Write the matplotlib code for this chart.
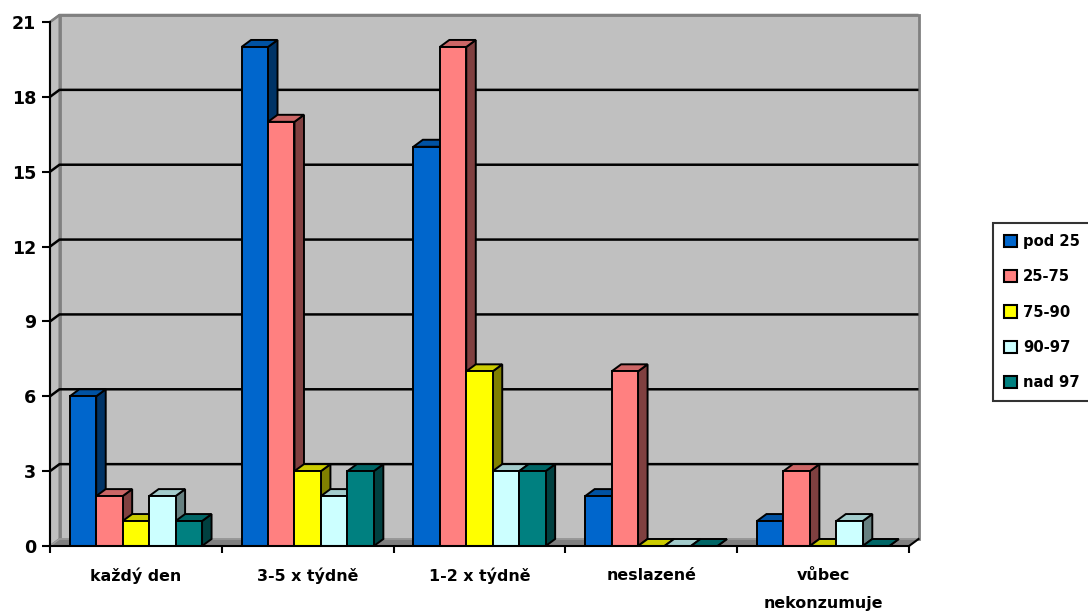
import numpy as np
import matplotlib.pyplot as plt
from matplotlib.patches import Polygon, Rectangle, Patch

categories = ["každý den", "3-5 x týdně", "1-2 x týdně", "neslazené", "vůbec\nnekonzumuje"]
series = ["pod 25", "25-75", "75-90", "90-97", "nad 97"]
pod_25 = [6, 20, 16, 2, 1]
p25_75 = [2, 17, 20, 7, 3]
p75_90 = [1, 3, 7, 0, 0]
p90_97 = [2, 2, 3, 0, 1]
nad_97 = [1, 3, 3, 0, 0]
yticks = [0, 3, 6, 9, 12, 15, 18, 21]

values = [pod_25, p25_75, p75_90, p90_97, nad_97]
front = ["#0066CC", "#FF8080", "#FFFF00", "#CCFFFF", "#008080"]
top = ["#0052A3", "#CC6666", "#CCCC00", "#A3CCCC", "#006666"]
side = ["#003366", "#804040", "#808000", "#668080", "#004040"]

plt.rcParams['font.family'] = ['DejaVu Sans']
plt.rcParams['font.weight'] = 'bold'

W, H = 1088, 612
fig = plt.figure(figsize=(W / 100, H / 100), dpi=100)
ax_l, ax_b, ax_w, ax_h = 50, 66, 859, 524
ax = fig.add_axes([ax_l / W, ax_b / H, ax_w / W, ax_h / H])
ncat = len(categories)
ymax = 21
ax.set_xlim(0, ncat)
ax.set_ylim(0, ymax)
ax.set_facecolor('none')

# depth of the 3d box, in data units (9.5 px right, 7 px up)
DX = 9.5 / ax_w * ncat
DY = 7.0 / ax_h * ymax

# left side wall, floor and back wall
ax.add_patch(Polygon([(0, 0), (DX, DY), (DX, ymax + DY), (0, ymax)], closed=True,
                     facecolor="#C0C0C0", edgecolor="#808080", lw=1.5, clip_on=False, zorder=0.5))
ax.add_patch(Polygon([(0, 0), (ncat, 0), (ncat + DX, DY), (DX, DY)], closed=True,
                     facecolor="#808080", edgecolor="#A0A0A0", lw=1, clip_on=False, zorder=0.6))
ax.add_patch(Rectangle((DX, DY), ncat, ymax, facecolor="#C0C0C0", edgecolor="#808080",
                       lw=2, clip_on=False, zorder=0.4))

# gridlines run across the side wall and along the back wall
for t in yticks[1:]:
    c = "black" if t < ymax else "#808080"
    ax.plot([0, DX, ncat + DX], [t, t + DY, t + DY], color=c, lw=1.8,
            clip_on=False, zorder=0.7, solid_capstyle='butt')

# bars
gap = 0.115
bw = (1 - 2 * gap) / len(series)
for i in range(ncat):
    for j in range(len(series)):
        v = values[j][i]
        x = i + gap + j * bw
        z = 2 + i * 0.1 + j * 0.01
        ax.add_patch(Polygon([(x + bw, 0), (x + bw + DX, DY), (x + bw + DX, v + DY), (x + bw, v)],
                             closed=True, facecolor=side[j], edgecolor="black", lw=1.4,
                             joinstyle='miter', clip_on=False, zorder=z))
        ax.add_patch(Polygon([(x, v), (x + bw, v), (x + bw + DX, v + DY), (x + DX, v + DY)],
                             closed=True, facecolor=top[j], edgecolor="black", lw=1.4,
                             joinstyle='miter', clip_on=False, zorder=z))
        ax.add_patch(Rectangle((x, 0), bw, v, facecolor=front[j], edgecolor="black", lw=1.4,
                               joinstyle='miter', clip_on=False, zorder=z + 0.001))

# axes lines
for s in ['top', 'right']:
    ax.spines[s].set_visible(False)
for s in ['left', 'bottom']:
    ax.spines[s].set_linewidth(1.5)
    ax.spines[s].set_zorder(5)
ax.plot([ncat, ncat + DX], [0, DY], color="black", lw=1.5, clip_on=False, zorder=5)

ax.tick_params(axis='y', direction='out', length=5.8, width=1.5, pad=4.3)
ax.set_yticks(yticks)
ax.set_yticklabels([str(t) for t in yticks], fontsize=12.6, fontweight='bold')

ax.tick_params(axis='x', which='major', direction='out', length=5, width=1.5)
ax.tick_params(axis='x', which='minor', length=0, pad=15.5)
ax.set_xticks(np.arange(ncat + 1))
ax.set_xticklabels([])
ax.set_xticks(np.arange(ncat) + 0.5, minor=True)
ax.set_xticklabels(categories, minor=True, fontsize=11.4, fontweight='bold', linespacing=2.1)

handles = [Patch(facecolor=front[j], edgecolor="black", lw=1.5) for j in range(len(series))]
leg = fig.legend(handles, series, loc='upper left', bbox_to_anchor=(993 / W, 1 - 223 / H),
                 borderaxespad=0, fancybox=False, frameon=True, edgecolor="black",
                 prop={'size': 10.6, 'weight': 'bold'}, handlelength=0.9, handleheight=0.9,
                 handletextpad=0.4, labelspacing=1.38, borderpad=0.75)
leg.get_frame().set_linewidth(1.5)

plt.savefig('out.png', dpi=100)
plt.close()
